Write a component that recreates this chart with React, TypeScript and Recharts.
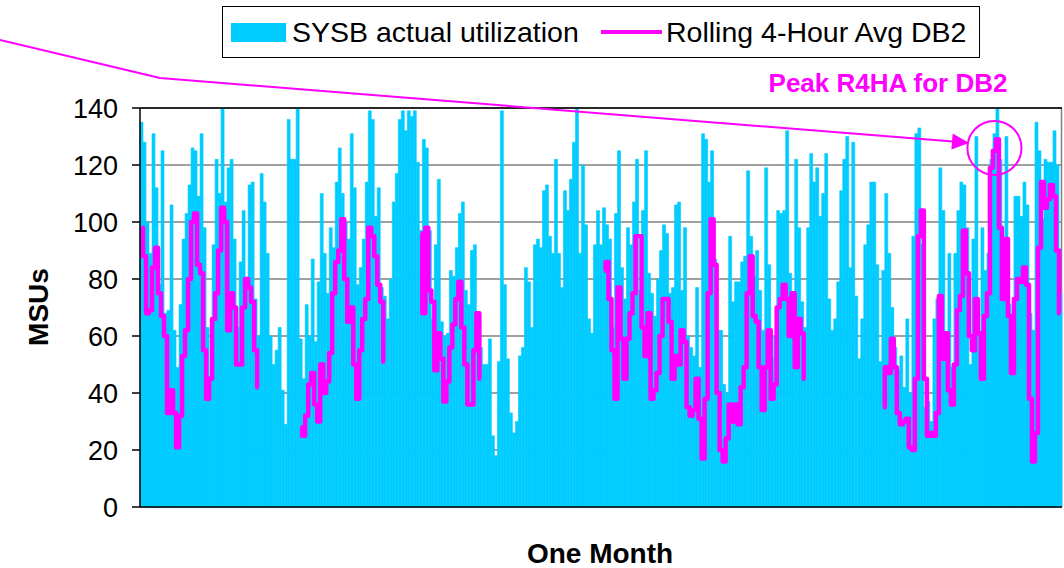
import React from 'react';
import { ComposedChart, Bar, Line, XAxis, YAxis, CartesianGrid, ReferenceLine, ReferenceDot } from 'recharts';

const _ = null;

// SYSB actual utilization (MSUs), one bar per sample across the month
const sysb = [
  135, 128, 100, 89, 131, 112, 78, 125, 68, 69, 106, 62, 49, 71, 94, 103, 113, 126, 125, 109, 131, 98, 63, 46, 92, 122,
  110, 140, 107, 119, 122, 94, 63, 86, 104, 80, 113, 114, 73, 60, 117, 107, 89, 60, 50, 55, 63, 41, 29, 136, 122, 122,
  140, 59, 45, 71, 60, 87, 58, 79, 110, 89, 75, 98, 91, 114, 126, 110, 100, 94, 131, 112, 78, 84, 94, 114, 139, 136,
  102, 112, 77, 74, 66, 80, 107, 117, 136, 139, 132, 139, 137, 139, 121, 97, 129, 126, 97, 66, 92, 115, 65, 60, 61, 83,
  81, 91, 103, 107, 76, 71, 90, 92, 68, 56, 50, 50, 59, 25, 18, 51, 139, 78, 52, 33, 26, 30, 53, 56, 84, 79,
  63, 92, 94, 91, 111, 113, 95, 89, 122, 89, 77, 111, 104, 115, 128, 140, 89, 120, 99, 66, 61, 92, 104, 92, 105, 99,
  94, 63, 103, 125, 84, 73, 98, 92, 107, 122, 76, 104, 125, 82, 75, 67, 80, 90, 99, 96, 75, 77, 106, 107, 76, 98,
  60, 56, 53, 77, 49, 131, 129, 114, 125, 87, 62, 62, 43, 40, 95, 72, 79, 79, 86, 88, 118, 95, 81, 90, 76, 62,
  119, 85, 52, 60, 104, 103, 104, 132, 82, 60, 122, 98, 72, 63, 98, 124, 114, 119, 102, 110, 124, 73, 62, 66, 79, 111,
  122, 130, 84, 128, 74, 52, 66, 92, 99, 114, 114, 85, 51, 83, 110, 89, 70, 56, 48, 53, 42, 66, 40, 95, 131, 133,
  92, 35, 37, 30, 66, 73, 119, 104, 60, 89, 49, 89, 104, 114, 113, 98, 50, 94, 130, 61, 98, 83, 89, 122,
  131, 140, 122, 75, 130, 71, 54, 109, 109, 102, 114, 106, 68, 62, 135, 125, 101, 122, 121, 121, 132, 120, 75,
];

// Rolling 4-hour average for DB2 (gaps where no value was reported)
const r4ha = [
  98, 88, 68, 69, 84, 91, 75, 67, 60, 33, 41, 33, 21, 32, 53, 62, 80, 100, 103, 85, 82, 55, 38, 45, 66, 75,
  90, 105, 100, 62, 75, 70, 50, 50, 70, 80, 77, 72, 55, 42, _, _, _, _, _, _, _, _, _, _, _, _,
  _, 28, 25, 32, 43, 47, 36, 30, 50, 40, 44, 54, 75, 86, 90, 101, 80, 65, 70, 50, 38, 55, 66, 73, 98, 95,
  88, 78, 72, 51, _, _, _, _, _, _, _, _, _, _, _, 96, 68, 98, 76, 72, 48, 61, 52, 37, 44, 56,
  64, 73, 79, 63, 50, 36, 36, 55, 68, 45, _, _, _, _, _, _, _, _, _, _, _, _, _, _, _, _,
  _, _, _, _, _, _, _, _, _, _, _, _, _, _, _, _, _, _, _, _, _, _, _, _, 83, 86,
  73, 55, 38, 77, 59, 45, 59, 68, 75, 95, 95, 63, 53, 68, 38, 41, 47, 60, 73, 73, 65, 45, 53, 50, 62, 58,
  35, 32, 34, 45, 31, 17, 38, 75, 101, 85, 40, 20, 16, 24, 36, 30, 36, 29, 42, 49, 75, 88, 67, 65, 49, 34,
  49, 62, 38, 43, 70, 73, 78, 73, 60, 75, 49, 66, 61, 45, _, _, _, _, _, _, _, _, _, _, _, _,
  _, _, _, _, _, _, _, _, _, _, _, _, _, 35, 49, 47, 59, 49, 33, 29, 30, 31, 21, 20, 45, 95,
  104, 45, 25, 26, 25, 33, 74, 52, 61, 41, 36, 50, 69, 74, 97, 82, 60, 55, 73, 61, 45, 67, 75, 119,
  125, 129, 98, 73, 94, 67, 47, 73, 80, 79, 84, 78, 38, 16, 26, 91, 114, 105, 108, 113, 109, 90, 68,
];

const yTicks = [0, 20, 40, 60, 80, 100, 120, 140];
const peakIndex = 284;
const peakCircleY = 126;

const data = sysb.map((v, i) => ({ i, sysb: v, r4ha: r4ha[i] ?? null }));

const FONT = '"Liberation Sans", Arial, Helvetica, sans-serif';
const CYAN = '#00CCFF';
const MAGENTA = '#FF00FF';

export default function App() {
  return (
    <div style={{ position: 'absolute', left: 0, top: 0, width: 1064, height: 568, background: '#fff', fontFamily: FONT }}>
      <ComposedChart width={1064} height={568} data={data} margin={{ top: 108, right: 2, left: 0, bottom: 0 }} barCategoryGap={0} barGap={0}>
        <CartesianGrid vertical={true} verticalPoints={[1061.5]} stroke="#808080" strokeWidth={1.5} />
        <XAxis dataKey="i" tick={false} tickLine={false} axisLine={{ stroke: '#000', strokeWidth: 1.5 }} height={61} />
        <YAxis
          domain={[0, 140]}
          ticks={yTicks}
          interval={0}
          width={140}
          tickSize={8}
          tickMargin={14}
          axisLine={{ stroke: '#000', strokeWidth: 1.5 }}
          tickLine={{ stroke: '#000', strokeWidth: 1.5 }}
          tick={{ fontSize: 27, fill: '#000', fontFamily: FONT }}
        />
        <Bar dataKey="sysb" fill={CYAN} stroke={CYAN} strokeWidth={0.6} isAnimationActive={false} />
        <Line
          type="step"
          dataKey="r4ha"
          stroke={MAGENTA}
          strokeWidth={4.5}
          strokeLinejoin="round"
          dot={false}
          activeDot={false}
          connectNulls={false}
          isAnimationActive={false}
        />
        <ReferenceLine y={140} stroke="#000" strokeWidth={1.5} />
        <ReferenceDot x={peakIndex} y={peakCircleY} r={27} fill="none" stroke={MAGENTA} strokeWidth={2} ifOverflow="visible" />
      </ComposedChart>

      <svg width={1064} height={568} style={{ position: 'absolute', left: 0, top: 0, pointerEvents: 'none' }}>
        {/* legend */}
        <rect x={222.5} y={6.5} width={757} height={51} fill="#fff" stroke="#000" strokeWidth={1} />
        <rect x={231} y={23} width={55} height={19} fill={CYAN} />
        <text x={292} y={42} fontSize={28.5} fontFamily={FONT} fill="#000">SYSB actual utilization</text>
        <line x1={601} y1={32} x2={662} y2={32} stroke={MAGENTA} strokeWidth={4} />
        <text x={666} y={42} fontSize={28.5} fontFamily={FONT} fill="#000">Rolling 4-Hour Avg DB2</text>

        {/* callout */}
        <polyline points="0,40 160,78 953,141.6" fill="none" stroke={MAGENTA} strokeWidth={2} />
        <polygon points="969,143 952.7,133.6 951.4,149.6" fill={MAGENTA} />
        <text x={888} y={92} textAnchor="middle" fontSize={26} fontWeight="bold" fontFamily={FONT} fill={MAGENTA}>
          Peak R4HA for DB2
        </text>

        {/* axis titles */}
        <text
          x={38}
          y={307}
          transform="rotate(-90 38 307)"
          textAnchor="middle"
          dominantBaseline="central"
          fontSize={28}
          fontWeight="bold"
          fontFamily={FONT}
          fill="#000"
        >
          MSUs
        </text>
        <text x={600} y={563} textAnchor="middle" fontSize={28} fontWeight="bold" fontFamily={FONT} fill="#000">
          One Month
        </text>
      </svg>
    </div>
  );
}
